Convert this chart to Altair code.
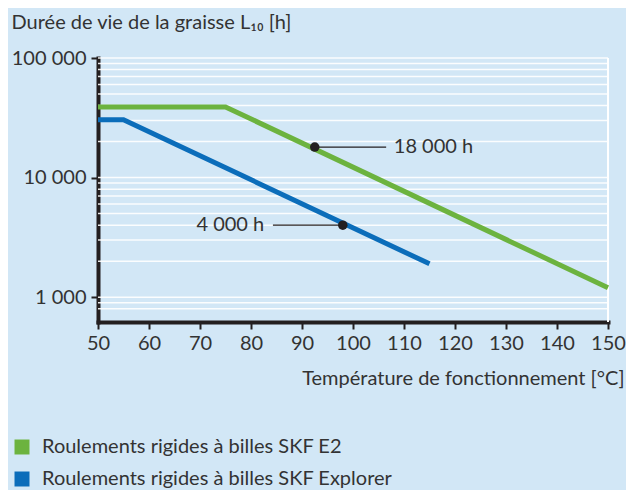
import altair as alt
import pandas as pd

# ---- data ----
series_names = ["Roulements rigides à billes SKF E2",
                "Roulements rigides à billes SKF Explorer"]
series_colors = ["#6cb33f", "#0b6dba"]

e2_temp = [50, 75, 150]
e2_life = [39000, 39000, 1200]
explorer_temp = [50, 55, 115]
explorer_life = [30500, 30500, 1900]

mark_temp = [92.5, 98]
mark_life = [18000, 4000]
mark_text = ["18 000 h", "4 000 h"]
leader_from = [92.5, 84.3]
leader_to = [106.5, 98]
label_temp = [108, 82.6]
label_side = ["left", "right"]

x_ticks = [50, 60, 70, 80, 90, 100, 110, 120, 130, 140, 150]
y_ticks = [1000, 10000, 100000]
grid_values = [800, 900, 1000, 2000, 3000, 4000, 5000, 6000, 7000, 8000, 9000,
               10000, 20000, 30000, 40000, 50000, 60000, 70000, 80000, 90000, 100000]

x_title = "Température de fonctionnement [°C]"
y_title = "Durée de vie de la graisse L₁₀ [h]"

FONT = "Lato"
TXT = "#333333"
BG = "#d2e7f6"

# ---- tables ----
lines_df = pd.DataFrame({
    "temp": e2_temp + explorer_temp,
    "life": e2_life + explorer_life,
    "series": [series_names[0]] * len(e2_temp) + [series_names[1]] * len(explorer_temp),
    "ord": list(range(len(e2_temp))) + list(range(len(explorer_temp))),
})
ann_df = pd.DataFrame({
    "temp": mark_temp, "life": mark_life, "text": mark_text,
    "x1": leader_from, "x2": leader_to, "tx": label_temp, "side": label_side,
})
grid_df = pd.DataFrame({"v": grid_values})

xscale = alt.Scale(domain=[50, 150], nice=False, zero=False)
yscale = alt.Scale(type="log", domain=[620, 100000], nice=False)

x_axis = alt.Axis(values=x_ticks, title=x_title, grid=False)
y_axis = alt.Axis(values=y_ticks, title=y_title, grid=False,
                  labelExpr="replace(format(datum.value, ','), ',', ' ')")

grid = alt.Chart(grid_df).mark_rule(color="white", strokeWidth=1.5, opacity=0.9).encode(
    y=alt.Y("v:Q", scale=yscale, axis=y_axis),
    x=alt.datum(50, scale=xscale, axis=x_axis),
    x2=alt.datum(150),
)

right_edge = alt.Chart(grid_df).mark_rule(color="white", strokeWidth=2, opacity=0.6).encode(
    x=alt.datum(150),
    y=alt.datum(620),
    y2=alt.datum(100000),
)

lines = alt.Chart(lines_df).mark_line(strokeWidth=5, strokeCap="butt").encode(
    x=alt.X("temp:Q", scale=xscale, axis=x_axis),
    y=alt.Y("life:Q", scale=yscale, axis=y_axis),
    order="ord:Q",
    color=alt.Color(
        "series:N",
        sort=series_names,
        scale=alt.Scale(domain=series_names, range=series_colors),
        legend=alt.Legend(
            title=None, orient="none", legendX=-86, legendY=379,
            direction="vertical", symbolType="square", symbolSize=56,
            symbolStrokeWidth=7.5, labelFont=FONT, labelFontSize=20,
            labelColor=TXT, labelOffset=10, rowPadding=-6, padding=0,
            labelLimit=600,
        ),
    ),
)

leaders = alt.Chart(ann_df).mark_rule(color="#231f20", strokeWidth=1.3).encode(
    x="x1:Q", x2="x2:Q", y="life:Q",
)

points = alt.Chart(ann_df).mark_circle(size=90, color="#231f20", opacity=1).encode(
    x="temp:Q", y="life:Q",
)

text_left = alt.Chart(ann_df).transform_filter("datum.side == 'left'").mark_text(
    align="left", baseline="middle", font=FONT, fontSize=20, color=TXT
).encode(x="tx:Q", y="life:Q", text="text:N")

text_right = alt.Chart(ann_df).transform_filter("datum.side == 'right'").mark_text(
    align="right", baseline="middle", font=FONT, fontSize=20, color=TXT
).encode(x="tx:Q", y="life:Q", text="text:N")

chart = alt.layer(grid, right_edge, lines, leaders, points, text_left, text_right).properties(
    width=510, height=264,
    autosize=alt.AutoSizeParams(type="none"),
    padding={"left": 90, "top": 50, "right": 18, "bottom": 168},
    background=BG,
).configure_view(stroke=None).configure_axis(
    domainColor="#231f20", domainWidth=4, domainCap="square",
    tickColor="#231f20", tickWidth=2, tickSize=7,
    labelFont=FONT, labelFontSize=20, labelColor=TXT, labelPadding=4,
    titleFont=FONT, titleFontSize=20, titleFontWeight="normal", titleColor=TXT,
).configure_axisY(
    titleAngle=0, titleAlign="left", titleBaseline="alphabetic",
    titleX=-87, titleY=-30, labelPadding=5,
).configure_axisX(
    titleAlign="right", titleBaseline="alphabetic", titleAnchor="end",
    titleX=526, titleY=62, labelFlush=False,
)

chart.save("out.html", embed_options={"renderer": "svg", "actions": False})
